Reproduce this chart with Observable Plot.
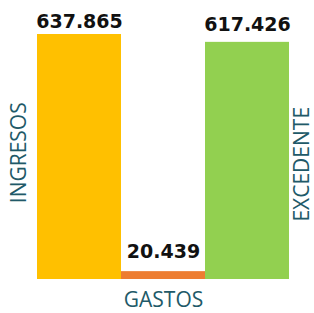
<!DOCTYPE html>
<html>
<head>
<meta charset="utf-8">
<script src="https://cdn.jsdelivr.net/npm/d3@7"></script>
<script src="https://cdn.jsdelivr.net/npm/@observablehq/plot@0.6"></script>
<style>
html,body{margin:0;padding:0;background:#fff;}
</style>
</head>
<body>
<div id="chart"></div>
<script>
const categories = ["INGRESOS", "GASTOS", "EXCEDENTE"];
const values = [637.865, 20.439, 617.426];
const valueLabels = ["637.865", "20.439", "617.426"];
const colors = ["#FFC000", "#ED7D31", "#92D050"];

const data = categories.map((c, i) => ({cat: c, value: values[i], label: valueLabels[i], color: colors[i]}));
const teal = "#215968";
const catFont = "'Open Sans', sans-serif";
const labelOffsets = [-7, -14, -11];

const valueText = (i) => Plot.text([data[i]], {x: "cat", y: "value", text: "label", dy: labelOffsets[i], lineAnchor: "bottom",
  fontFamily: "'DejaVu Sans', sans-serif", fontWeight: "bold", fontSize: 19, fill: "#111"});

const chart = Plot.plot({
  width: 314,
  height: 313,
  marginLeft: 37,
  marginRight: 25,
  marginTop: 34,
  marginBottom: 34,
  x: {domain: categories, padding: 0, axis: null},
  y: {domain: [0, 637.865], axis: null},
  marks: [
    Plot.barY(data, {x: "cat", y: "value", fill: "color"}),
    valueText(0), valueText(1), valueText(2),
    Plot.text([data[0]], {x: "cat", y: 330, text: "cat", rotate: -90, dx: -60,
      fontFamily: catFont, fontSize: 21, fill: teal}),
    Plot.text([data[2]], {x: "cat", y: 300, text: "cat", rotate: -90, dx: 55,
      fontFamily: catFont, fontSize: 21, fill: teal}),
    Plot.text([data[1]], {x: "cat", y: 0, text: "cat", dy: 21,
      fontFamily: catFont, fontSize: 21, fill: teal})
  ]
});
document.getElementById("chart").appendChild(chart);
</script>
</body>
</html>
